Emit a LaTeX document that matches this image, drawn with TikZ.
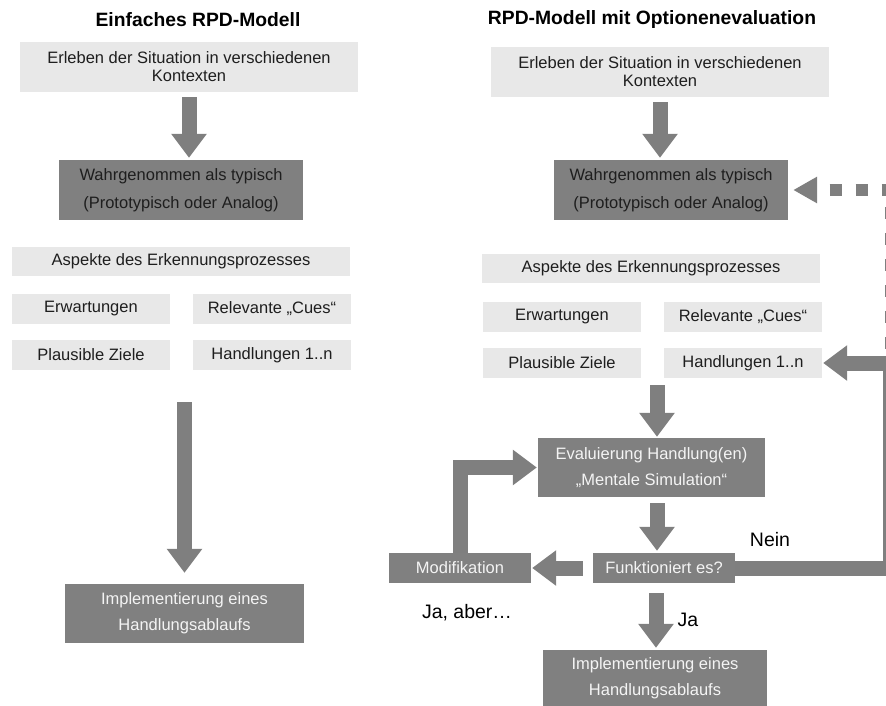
\documentclass[tikz,border=0pt]{standalone}
\usepackage{fontspec}
\setmainfont{Liberation Sans}
\usetikzlibrary{arrows.meta}

\definecolor{boxlight}{HTML}{E8E8E8}
\definecolor{boxdark}{HTML}{808080}
\definecolor{flow}{HTML}{7F7F7F}
\definecolor{lighttext}{HTML}{F4F4F4}
\definecolor{darktext}{HTML}{1E1E1E}

\tikzset{
  lightbox/.style={fill=boxlight, text=darktext, inner sep=0pt, align=center,
    font=\fontsize{16.5}{18}\selectfont},
  darkbox/.style={fill=boxdark, text=darktext, inner sep=0pt, align=center,
    font=\fontsize{16.5}{28}\selectfont},
  actionbox/.style={fill=boxdark, text=lighttext, inner sep=0pt, align=center,
    font=\fontsize{16.5}{26}\selectfont},
  heading/.style={font=\fontsize{19.3}{22}\selectfont\bfseries, text=black},
  answer/.style={font=\fontsize{19.5}{22}\selectfont, text=black},
  flowarrow/.style={draw=flow, line width=15pt,
    -{Triangle[length=24pt,width=34pt]}},
  dasharrow/.style={draw=flow, line width=12pt,
    dash pattern=on 12pt off 14pt, dash phase=12pt,
    {Triangle[length=24pt,width=25pt]}-},
}

\begin{document}
\begin{tikzpicture}[x=1pt, y=-1pt]
\useasboundingbox (0,0) rectangle (886,706);

% ---------- simple model ----------
\node[heading] (LT) at (198,20) {Einfaches RPD-Modell};
\node[lightbox, minimum width=338pt, minimum height=50pt] (L1) at (189,67)
  {Erleben der Situation in verschiedenen\\Kontexten};
\node[darkbox, minimum width=244pt, minimum height=60pt] (L2) at (181,190)
  {Wahrgenommen als typisch\\(Prototypisch oder Analog)};
\node[lightbox, minimum width=338pt, minimum height=29pt] (LA) at (181,261.5)
  {Aspekte des Erkennungsprozesses};
\node[lightbox, minimum width=158pt, minimum height=30pt] (LE) at (91,309) {Erwartungen};
\node[lightbox, minimum width=158pt, minimum height=30pt] (LR) at (272,309) {Relevante „Cues“};
\node[lightbox, minimum width=158pt, minimum height=30pt] (LP) at (91,355) {Plausible Ziele};
\node[lightbox, minimum width=158pt, minimum height=30pt] (LH) at (272,355) {Handlungen 1..n};
\node[actionbox, minimum width=239pt, minimum height=59pt] (LI) at (184.5,613.5)
  {Implementierung eines\\Handlungsablaufs};

\draw[flowarrow, shorten <=5pt, shorten >=2pt] (L1.south) -- (L1.south |- L2.north);
\draw[flowarrow, shorten <=32pt, shorten >=11pt] (LP.south -| LI.north) -- (LI.north);

% ---------- model with option evaluation ----------
\node[heading] (RT) at (652,20) {RPD-Modell mit Optionenevaluation};
\node[lightbox, minimum width=338pt, minimum height=50pt] (R1) at (660,72)
  {Erleben der Situation in verschiedenen\\Kontexten};
\node[darkbox, minimum width=234pt, minimum height=60pt] (R2) at (671,190)
  {Wahrgenommen als typisch\\(Prototypisch oder Analog)};
\node[lightbox, minimum width=338pt, minimum height=29pt] (RA) at (651,268.5)
  {Aspekte des Erkennungsprozesses};
\node[lightbox, minimum width=158pt, minimum height=30pt] (RE) at (562,317) {Erwartungen};
\node[lightbox, minimum width=158pt, minimum height=30pt] (RR) at (743,317) {Relevante „Cues“};
\node[lightbox, minimum width=158pt, minimum height=30pt] (RP) at (562,363) {Plausible Ziele};
\node[lightbox, minimum width=158pt, minimum height=30pt] (RH) at (743,363) {Handlungen 1..n};
\node[actionbox, minimum width=227pt, minimum height=59pt] (REv) at (651.5,467.5)
  {Evaluierung Handlung(en)\\„Mentale Simulation“};
\node[actionbox, minimum width=142pt, minimum height=30pt] (RF) at (664,568) {Funktioniert es?};
\node[actionbox, minimum width=142pt, minimum height=30pt] (RM) at (460,568) {Modifikation};
\node[actionbox, minimum width=224pt, minimum height=57pt] (RI) at (655,678.5)
  {Implementierung eines\\Handlungsablaufs};

\node[answer] (nein) at (770,540) {Nein};
\node[answer] (ja) at (688,620) {Ja};
\node[answer] (jaaber) at (467,613) {Ja, aber…};

% return path along the right margin
\coordinate (rail) at (890.5,0);

\draw[flowarrow, shorten <=5pt, shorten >=2pt] (R1.south) -- (R1.south |- R2.north);
\draw[flowarrow, shorten <=7pt, shorten >=1pt]
  ([xshift=5.5pt]REv.north |- RP.south) -- ([xshift=5.5pt]REv.north);
\draw[flowarrow, shorten <=6pt, shorten >=2pt]
  ([xshift=5.5pt]REv.south) -- ([xshift=5.5pt]REv.south |- RF.north);
\draw[flowarrow, shorten <=10pt, shorten >=2pt]
  ([xshift=-8pt]RF.south) -- ([xshift=-8pt]RF.south |- RI.north);
\draw[flowarrow, shorten <=10pt, shorten >=1pt] (RF.west) -- (RM.east);
\draw[flowarrow, shorten >=1pt] (RM.north) |- (REv.west);
\draw[flowarrow, shorten >=1pt] (RF.east) -| (rail |- RH.east) -- (RH.east);
\draw[dasharrow, shorten <=5pt] (R2.east) -| (rail |- RH.east);
\end{tikzpicture}
\end{document}
